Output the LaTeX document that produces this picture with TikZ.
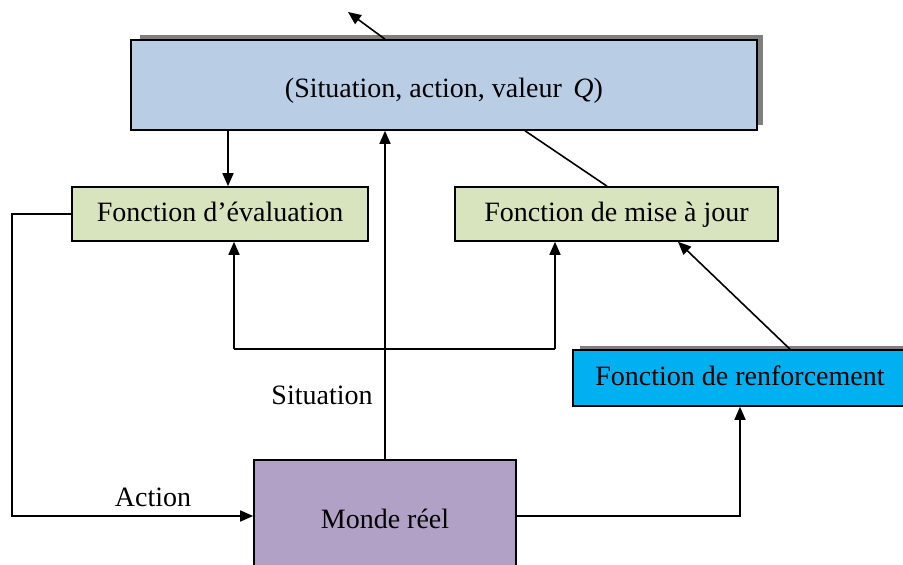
\documentclass[tikz,border=0pt]{standalone}
\usepackage{fontspec}
\setmainfont{Liberation Serif}
\usetikzlibrary{arrows.meta,calc}
\definecolor{topblue}{HTML}{B9CDE5}
\definecolor{fgreen}{HTML}{D7E4BD}
\definecolor{renfblue}{HTML}{00B0F0}
\definecolor{mondeviolet}{HTML}{B2A1C7}
\definecolor{shadowgray}{HTML}{7F7F7F}
\begin{document}
\begin{tikzpicture}[x=0.5pt,y=-0.5pt,
  boxstyle/.style={draw=black,line width=0.8pt,inner sep=0pt,text height=9pt,text depth=1pt,font=\fontsize{14}{16}\selectfont},
  conn/.style={line width=0.8pt},
  arr/.style={conn,-{Triangle[length=6.5pt,width=5.5pt]}},
  lbl/.style={font=\fontsize{14}{16}\selectfont,inner sep=0pt}]
\useasboundingbox (0,0) rectangle (903,565);
% shadows
\fill[shadowgray] (140,35) rectangle (763,125);
\fill[shadowgray] (580,346) rectangle (910,400);
% nodes
\node[boxstyle,fill=topblue,minimum width=313pt,minimum height=45pt] (top) at (444,85) {\raisebox{-2.5pt}{(Situation, action, valeur \,\textit{Q})}};
\node[boxstyle,fill=fgreen,minimum width=148pt,minimum height=27pt] (eval) at (220,214) {Fonction d’évaluation};
\node[boxstyle,fill=fgreen,minimum width=161.5pt,minimum height=27pt] (maj) at (616.5,214) {Fonction de mise à jour};
\node[boxstyle,fill=renfblue,minimum width=167pt,minimum height=28pt] (renf) at (740,378) {Fonction de renforcement};
\node[boxstyle,fill=mondeviolet,minimum width=131pt,minimum height=60pt] (monde) at (385,520) {Monde réel};
% coordinates
\coordinate (topout) at (348,12);
\coordinate (hl) at (234,349);
\coordinate (hr) at (555,349);
\coordinate (leftx) at (12,0);
\coordinate (renfx) at (740,0);
% connectors
\draw[arr] (top.north -| 385,0) -- (topout);
\draw[arr] (top.south -| 228,0) -- (eval.north -| 228,0);
\draw[arr] (monde.north) -- (top.south -| monde.north);
\draw[conn] (hl) -- (hr);
\draw[arr] (hl) -- (eval.south -| hl);
\draw[arr] (hr) -- (maj.south -| hr);
\draw[conn] (top.south -| 525,0) -- (maj.north -| 607,0);
\draw[arr] (renf.north -| 790,0) -- (maj.south -| 678,0);
\draw[arr] (eval.west) -- (eval.west -| leftx) |- (monde.west |- 0,516);
\draw[arr] (monde.east |- 0,516) -| (renf.south -| renfx);
% labels
\node[lbl] (lsit) at (322,395) {Situation};
\node[lbl] (lact) at (153,497) {Action};
\end{tikzpicture}
\end{document}
